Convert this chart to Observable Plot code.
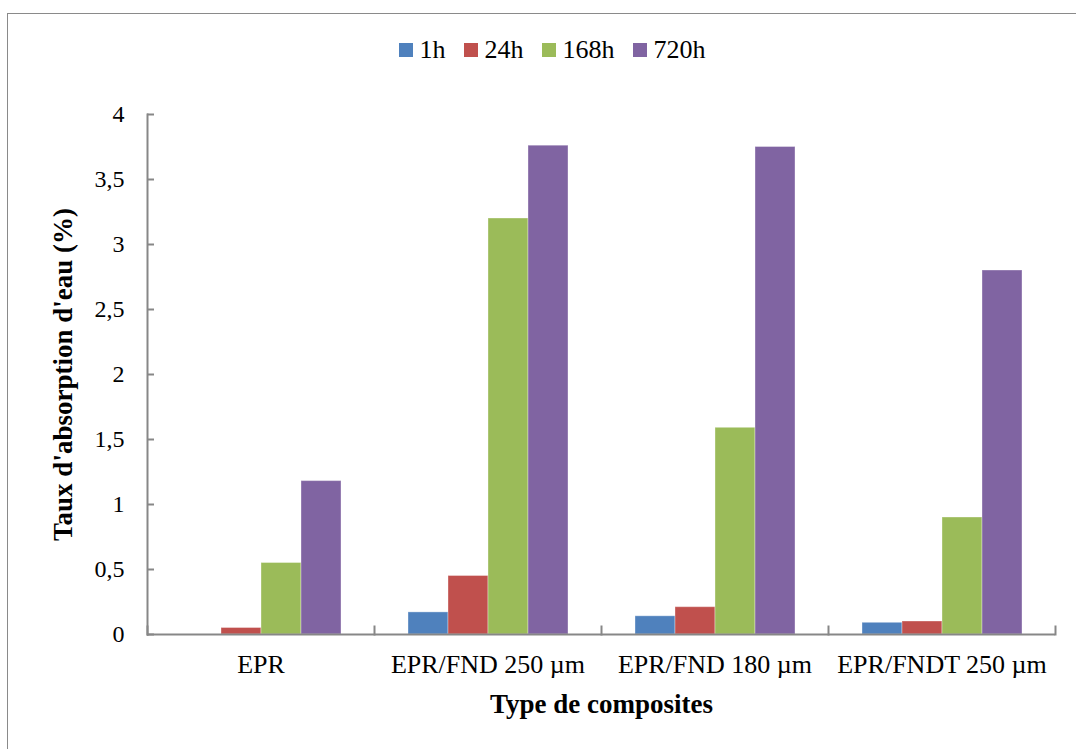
<!DOCTYPE html>
<html>
<head>
<meta charset="utf-8">
<script src="https://cdn.jsdelivr.net/npm/d3@7"></script>
<script src="https://cdn.jsdelivr.net/npm/@observablehq/plot@0.6"></script>
<style>
  html, body { margin: 0; padding: 0; background: #fff; }
  body { width: 1076px; height: 749px; position: relative; overflow: hidden; font-family: "Liberation Serif", "DejaVu Serif", serif; }
  #frame { position: absolute; left: 7px; top: 13px; width: 1100px; height: 800px; border-left: 1.5px solid #8a8a8a; border-top: 1.5px solid #8a8a8a; }
  #legend { position: absolute; left: 14px; width: 1076px; top: 36px; display: flex; justify-content: center; font-size: 26px; line-height: 28px; color: #000; }
  .item { display: flex; align-items: center; margin: 0 9px; }
  .sw { width: 14px; height: 14px; margin-right: 7px; }
  #chart { position: absolute; left: 0; top: 80px; }
  #chart svg text { font-family: "Liberation Serif", serif; }
  g[aria-label="fx-axis label"] text, g[aria-label="y-axis label"] text { font-weight: bold; font-size: 27px; }
  g[aria-label="fx-axis tick label"] text { font-size: 26px; }
</style>
</head>
<body>
<div id="frame"></div>
<div id="legend"></div>
<div id="chart"></div>
<script>
const categories = ["EPR", "EPR/FND 250 µm", "EPR/FND 180 µm", "EPR/FNDT 250 µm"];
const series = ["1h", "24h", "168h", "720h"];
const colors = ["#4F81BD", "#C0504D", "#9BBB59", "#8064A2"];
const v1h   = [0.00, 0.17, 0.14, 0.09];
const v24h  = [0.05, 0.45, 0.21, 0.10];
const v168h = [0.55, 3.20, 1.59, 0.90];
const v720h = [1.18, 3.76, 3.75, 2.80];
const yTicks = [0, 0.5, 1, 1.5, 2, 2.5, 3, 3.5, 4];

const valuesBySeries = [v1h, v24h, v168h, v720h];
const data = [];
categories.forEach((c, i) => series.forEach((s, j) => data.push({cat: c, serie: s, value: valuesBySeries[j][i]})));

const legend = document.getElementById("legend");
series.forEach((s, j) => {
  const it = document.createElement("div");
  it.className = "item";
  it.innerHTML = `<div class="sw" style="background:${colors[j]}"></div><span>${s}</span>`;
  legend.appendChild(it);
});

const W = 1076, H = 669;
const mTop = 34, mBottom = 115, mLeft = 145, mRight = 20;
const plotH = H - mTop - mBottom;
const axisGray = "#878787";

const chart = Plot.plot({
  width: W, height: H,
  marginTop: mTop, marginBottom: mBottom, marginLeft: mLeft, marginRight: mRight,
  style: { fontFamily: "'Liberation Serif', serif", fontSize: "24px", color: "#000", background: "transparent" },
  fx: { domain: categories, padding: 0 },
  x: { domain: series, paddingInner: 0, paddingOuter: 0.78, axis: null },
  y: { domain: [0, 4] },
  color: { domain: series, range: colors },
  marks: [
    Plot.barY(data, { fx: "cat", x: "serie", y: "value", fill: "serie", stroke: "white", strokeOpacity: 0.35, strokeWidth: 1 }),
    Plot.ruleY([0], { stroke: axisGray, strokeWidth: 2 }),
    Plot.frame({ anchor: "left", stroke: axisGray, strokeWidth: 2, facetAnchor: "left" }),
    Plot.frame({ anchor: "left", stroke: axisGray, strokeWidth: 2, insetTop: plotH - 8 }),
    Plot.frame({ anchor: "right", stroke: axisGray, strokeWidth: 2, insetTop: plotH - 8, facetAnchor: "right" }),
    Plot.axisY({
      ticks: yTicks, tickSize: -7, tickPadding: 30, stroke: axisGray, strokeWidth: 2,
      tickFormat: d => String(d).replace(".", ","),
      label: "Taux d'absorption d'eau (%)", labelAnchor: "center", labelArrow: "none", labelOffset: 95
    }),
    Plot.axisFx({
      anchor: "bottom", tickSize: 0, tickPadding: 20,
      label: "Type de composites", labelAnchor: "center", labelArrow: "none", labelOffset: 78
    })
  ]
});
document.getElementById("chart").appendChild(chart);
</script>
</body>
</html>
